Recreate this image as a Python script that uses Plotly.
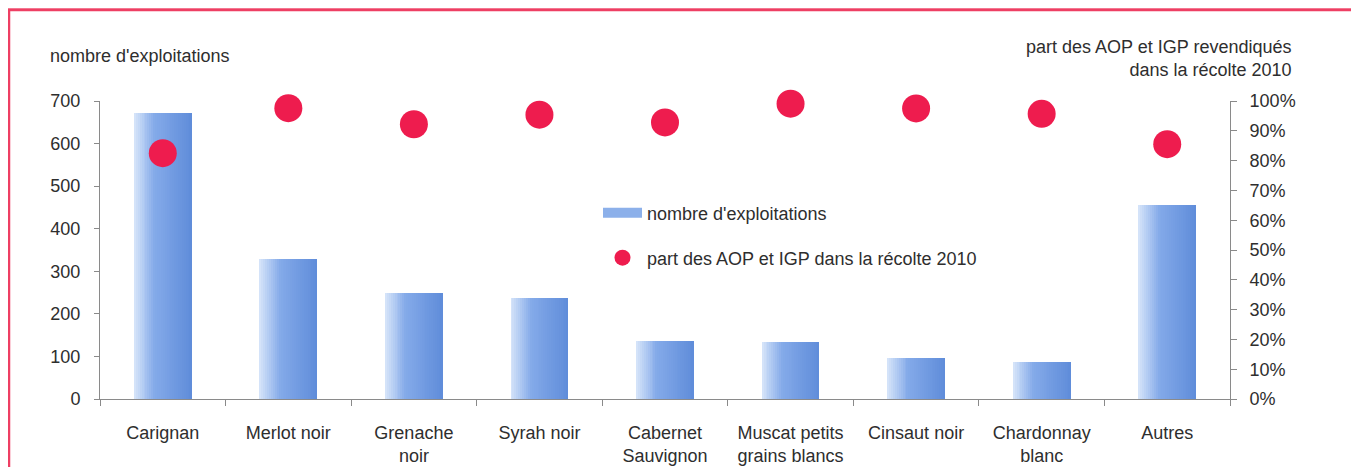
import plotly.graph_objects as go

# ---- data ----
categories = ["Carignan", "Merlot noir", "Grenache<br>noir", "Syrah noir",
              "Cabernet<br>Sauvignon", "Muscat petits<br>grains blancs",
              "Cinsaut noir", "Chardonnay<br>blanc", "Autres"]
nb_exploitations = [671, 329, 249, 237, 136, 135, 96, 86, 455]
part_aop_igp = [82.5, 97.6, 92.2, 95.4, 92.8, 99.1, 97.5, 95.7, 85.5]
left_ticks = [0, 100, 200, 300, 400, 500, 600, 700]
right_ticks = [0, 10, 20, 30, 40, 50, 60, 70, 80, 90, 100]
right_labels = ["%d%%" % v for v in right_ticks]
name_bar = "nombre d'exploitations"
name_dot = "part des AOP et IGP dans la récolte 2010"
title_left = "nombre d'exploitations"
title_right = "part des AOP et IGP revendiqués<br>dans la récolte 2010"

# ---- layout constants (screen pixels; page body has an 8px margin) ----
W, H = 1359, 467
OFF = 8
FW, FH = W - OFF, H - OFF
PLX0, PLY0, PW, PH = 100, 101, 1130, 298          # plot area on screen
L, T = PLX0 - OFF, PLY0 - OFF
R, B = FW - L - PW, FH - T - PH
FONT = "Liberation Sans, Arial, sans-serif"
TXT = "#2e2e2e"
AX = "#8a8a8a"
FS = 18


def px_x(px):
    return (px - PLX0) / PW


def px_y(py):
    return (PLY0 + PH - py) / PH


def grad(t):
    stops = [(0.0, (212, 227, 249)), (0.35, (132, 170, 233)), (1.0, (96, 141, 218))]
    for (t0, c0), (t1, c1) in zip(stops[:-1], stops[1:]):
        if t <= t1:
            f = (t - t0) / (t1 - t0)
            c = [round(a + (b - a) * f) for a, b in zip(c0, c1)]
            return "rgb(%d,%d,%d)" % tuple(c)
    return "rgb(%d,%d,%d)" % stops[-1][1]


fig = go.Figure()

# gradient bars built from thin slices
N = 30
total_w = 0.46
sw = total_w / N
for i in range(N):
    wi = total_w - i * sw
    fig.add_trace(go.Bar(
        x=categories, y=nb_exploitations, name=name_bar,
        width=wi, offset=-total_w / 2 + i * sw,
        marker=dict(color=grad(i / (N - 1)), line=dict(width=0)),
        showlegend=False, hoverinfo="skip" if i else "x+y", yaxis="y",
    ))

# legend swatch for the bars
fig.add_trace(go.Scatter(
    x=[None], y=[None], mode="lines", name=name_bar,
    line=dict(color="rgb(140,176,234)", width=12),
    legend="legend", yaxis="y",
))

fig.add_trace(go.Scatter(
    x=categories, y=part_aop_igp, name=name_dot, mode="markers",
    marker=dict(size=28, color="#ee1c4e"), cliponaxis=False,
    yaxis="y2", legend="legend2",
))

tickfont = dict(family=FONT, size=FS, color=TXT)

fig.update_layout(
    width=FW, height=FH,
    margin=dict(l=L, r=R, t=T, b=B, pad=0, autoexpand=False),
    paper_bgcolor="white", plot_bgcolor="white",
    font=dict(family=FONT, size=FS, color=TXT),
    barmode="overlay", bargap=0,
    xaxis=dict(
        type="category", range=[-0.5, 8.5], showgrid=False, zeroline=False,
        showline=True, linecolor=AX, linewidth=1,
        ticks="outside", tickson="boundaries", ticklen=6, tickcolor=AX,
        tickfont=tickfont, ticklabelstandoff=17, tickangle=0,
    ),
    yaxis=dict(
        range=[0, 700], tickvals=left_ticks, showgrid=False, zeroline=False,
        showline=True, linecolor=AX, linewidth=1,
        ticks="outside", ticklen=5, tickcolor=AX,
        tickfont=tickfont, ticklabelstandoff=10,
    ),
    yaxis3=dict(
        range=[0, 700], tickvals=left_ticks, overlaying="y", side="left",
        showgrid=False, zeroline=False, showline=False,
        ticks="inside", ticklen=5, tickcolor=AX, showticklabels=False,
    ),
    yaxis2=dict(
        range=[0, 100], tickvals=right_ticks, ticktext=right_labels,
        tickmode="array",
        overlaying="y", side="right", showgrid=False, zeroline=False,
        showline=True, linecolor=AX, linewidth=1,
        ticks="outside", ticklen=6, tickcolor=AX,
        tickfont=tickfont, ticklabelstandoff=9,
    ),
    yaxis4=dict(
        range=[0, 100], tickvals=right_ticks, overlaying="y", side="right",
        showgrid=False, zeroline=False, showline=False,
        ticks="inside", ticklen=6, tickcolor=AX, showticklabels=False,
    ),
    legend=dict(
        x=px_x(598), y=px_y(213), itemwidth=39,
        xanchor="left", yanchor="middle", bgcolor="rgba(0,0,0,0)",
        font=dict(family=FONT, size=FS, color=TXT),
    ),
    legend2=dict(
        x=px_x(598), y=px_y(258), itemwidth=39,
        xanchor="left", yanchor="middle", bgcolor="rgba(0,0,0,0)",
        font=dict(family=FONT, size=FS, color=TXT),
    ),
    annotations=[
        dict(text=title_left, xref="paper", yref="paper",
             x=px_x(48), y=px_y(56), xanchor="left", yanchor="middle",
             showarrow=False, font=dict(family=FONT, size=FS, color=TXT)),
        dict(text=title_right, xref="paper", yref="paper",
             x=px_x(1294), y=px_y(58), xanchor="right", yanchor="middle",
             align="right", showarrow=False,
             font=dict(family=FONT, size=FS, color=TXT)),
    ],
    shapes=[
        dict(type="rect", xref="paper", yref="paper", layer="below",
             x0=px_x(-20), x1=px_x(W + 20), y0=px_y(9), y1=px_y(-20),
             fillcolor="#f58ba1", line=dict(width=0)),
        dict(type="rect", xref="paper", yref="paper", layer="below",
             x0=px_x(9), x1=px_x(1355), y0=px_y(490), y1=px_y(10),
             fillcolor="rgba(0,0,0,0)", line=dict(color="#ee3f63", width=2.5)),
    ],
)

fig.write_html("out.html")
